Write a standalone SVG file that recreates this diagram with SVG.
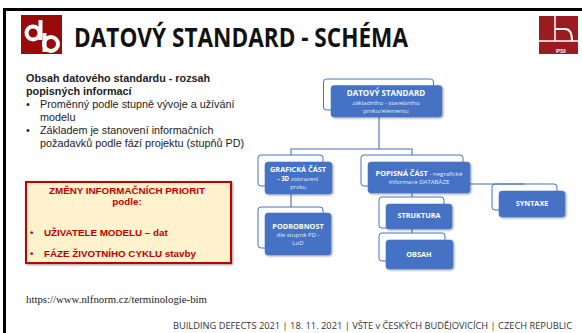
<svg xmlns="http://www.w3.org/2000/svg" width="582" height="333" viewBox="0 0 582 333">
<style>
.sans{font-family:"Liberation Sans",Arial,sans-serif}
.os{font-family:"Open Sans","Noto Sans",sans-serif}
.body{font-size:10.8px;fill:#222}
.fill{fill:#4472c4;stroke:#4a76c0;stroke-width:.5;filter:url(#sh)}
.out{fill:none;stroke:#4472c4;stroke-width:1}
.t{font-family:"Open Sans","Noto Sans",sans-serif;fill:#fff;text-anchor:middle;font-size:7.3px;font-weight:700}
.s{font-family:"Open Sans","Noto Sans",sans-serif;fill:#e3ebf7;text-anchor:middle;font-size:6.1px}
.red{font-size:9.8px;font-weight:700;fill:#c00000}
.foot{font-family:"Open Sans","Noto Sans",sans-serif;font-size:8.2px;fill:#333}
.con{fill:none;stroke:#4a6fae;stroke-width:1.1}
</style>
<defs>
<filter id="sh" x="-10%" y="-10%" width="125%" height="130%"><feDropShadow dx="1" dy="1" stdDeviation="1" flood-color="#000" flood-opacity=".4"/></filter>
</defs>
<rect width="582" height="333" fill="#fff"/>
<rect x="3" y="8" width="579" height="3" fill="#000"/>
<rect x="3" y="8" width="3" height="325" fill="#000"/>
<g id="logo-db">
<rect x="21" y="15" width="41" height="39" fill="#9b0a0a"/>
<circle cx="33" cy="33" r="6.5" fill="none" stroke="#fff" stroke-width="4"/>
<circle cx="51" cy="44" r="7" fill="none" stroke="#fff" stroke-width="4"/>
<rect x="38.500" y="20" width="4" height="20" fill="#fff"/>
<rect x="42.500" y="33" width="4" height="19" fill="#fff"/>
</g>
<text x="74" y="47" class="os" font-size="27" font-weight="700" fill="#111" textLength="334" lengthAdjust="spacingAndGlyphs">DATOVÝ STANDARD - SCHÉMA</text>
<g id="logo-psi">
<rect x="539" y="16" width="39" height="38" fill="#9b1c1f"/>
<path d="M555 16V41M539 41H578" stroke="#fff" stroke-width="1.500" fill="none"/>
<path d="M555 29H565Q572 29 572 41" stroke="#fff" stroke-width="2" fill="none"/>
<text x="556" y="52.500" class="sans" font-size="6" font-weight="700" fill="#fff">PSI</text>
</g>
<g class="sans body">
<text x="26" y="82" font-weight="700" fill="#222">Obsah datového standardu - rozsah</text>
<text x="26" y="95" font-weight="700" fill="#222">popisných informací</text>
<text x="26" y="108">•</text><text x="40" y="108">Proměnný podle stupně vývoje a užívání</text>
<text x="40" y="121">modelu</text>
<text x="26" y="134">•</text><text x="40" y="134">Základem je stanovení informačních</text>
<text x="40" y="147">požadavků podle fází projektu (stupňů PD)</text>
</g>
<g id="priority-box">
<rect x="26" y="182" width="205" height="81" fill="#fff2cc" stroke="#c00000" stroke-width="2" filter="url(#sh)"/>
<g class="sans red">
<text x="127" y="194" text-anchor="middle">ZMĚNY INFORMAČNÍCH PRIORIT</text>
<text x="127" y="205" text-anchor="middle">podle:</text>
<text x="30" y="236">•</text><text x="44" y="236">UŽIVATELE MODELU – dat</text>
<text x="30" y="257">•</text><text x="44" y="257">FÁZE ŽIVOTNÍHO CYKLU stavby</text>
</g>
</g>
<text x="26" y="303" font-family="'Liberation Serif',serif" font-size="10.800" fill="#222">https://www.nlfnorm.cz/terminologie-bim</text>
<text x="173" y="329" class="foot" textLength="399" lengthAdjust="spacingAndGlyphs">BUILDING DEFECTS 2021 | 18. 11. 2021 | VŠTE v ČESKÝCH BUDĚJOVICÍCH | CZECH REPUBLIC</text>
<g id="connectors">
<path class="con" d="M379 117V149M291 155V149H412V155M291 194V207M412 193V197M412 229V233M470 184H525"/>
</g>
<g id="n-standard">
<rect class="out" x="323.500" y="79" width="110" height="31" rx="3"/>
<rect class="fill" x="331" y="85.500" width="111" height="31.500" rx="3"/>
<text class="t" x="386" y="96" style="font-size:8px">DATOVÝ STANDARD</text>
<text class="s" x="386" y="105">základního - stavebního</text>
<text class="s" x="386" y="113">prvku/elementu</text>
</g>
<g id="n-graficka">
<rect class="out" x="258" y="155" width="65" height="31" rx="3"/>
<rect class="fill" x="265" y="162" width="67" height="32" rx="3"/>
<text class="t" x="298" y="172">GRAFICKÁ ČÁST</text>
<text class="s" x="298" y="181"><tspan font-weight="700" fill="#fff">- 3D</tspan> zobrazení</text>
<text class="s" x="298" y="189">prvku</text>
</g>
<g id="n-podrobnost">
<rect class="out" x="258" y="207" width="65" height="41" rx="3"/>
<rect class="fill" x="265" y="213" width="66" height="42" rx="3"/>
<text class="t" x="298" y="229">PODROBNOST</text>
<text class="s" x="298" y="237">dle stupně PD -</text>
<text class="s" x="298" y="245">LoD</text>
</g>
<g id="n-popisna">
<rect class="out" x="361" y="155" width="102" height="31" rx="3"/>
<rect class="fill" x="368" y="162" width="102" height="31" rx="3"/>
<text class="s" x="419" y="175.500"><tspan style="font-size:7.300px;fill:#fff;font-weight:700">POPISNÁ ČÁST</tspan> - negrafické</text>
<text class="s" x="419" y="183.500">informace DATABÁZE</text>
</g>
<g id="n-struktura">
<rect class="out" x="379" y="197" width="65" height="31" rx="3"/>
<rect class="fill" x="386" y="204" width="66" height="25" rx="3"/>
<text class="t" x="419" y="218">STRUKTURA</text>
</g>
<g id="n-obsah">
<rect class="out" x="379" y="233" width="66" height="28" rx="3"/>
<rect class="fill" x="386" y="240" width="67" height="29" rx="3"/>
<text class="t" x="419" y="257">OBSAH</text>
</g>
<g id="n-syntaxe">
<rect class="out" x="492" y="184" width="65" height="26" rx="3"/>
<rect class="fill" x="499" y="191" width="66" height="26" rx="3"/>
<text class="t" x="532" y="206">SYNTAXE</text>
</g>
</svg>
